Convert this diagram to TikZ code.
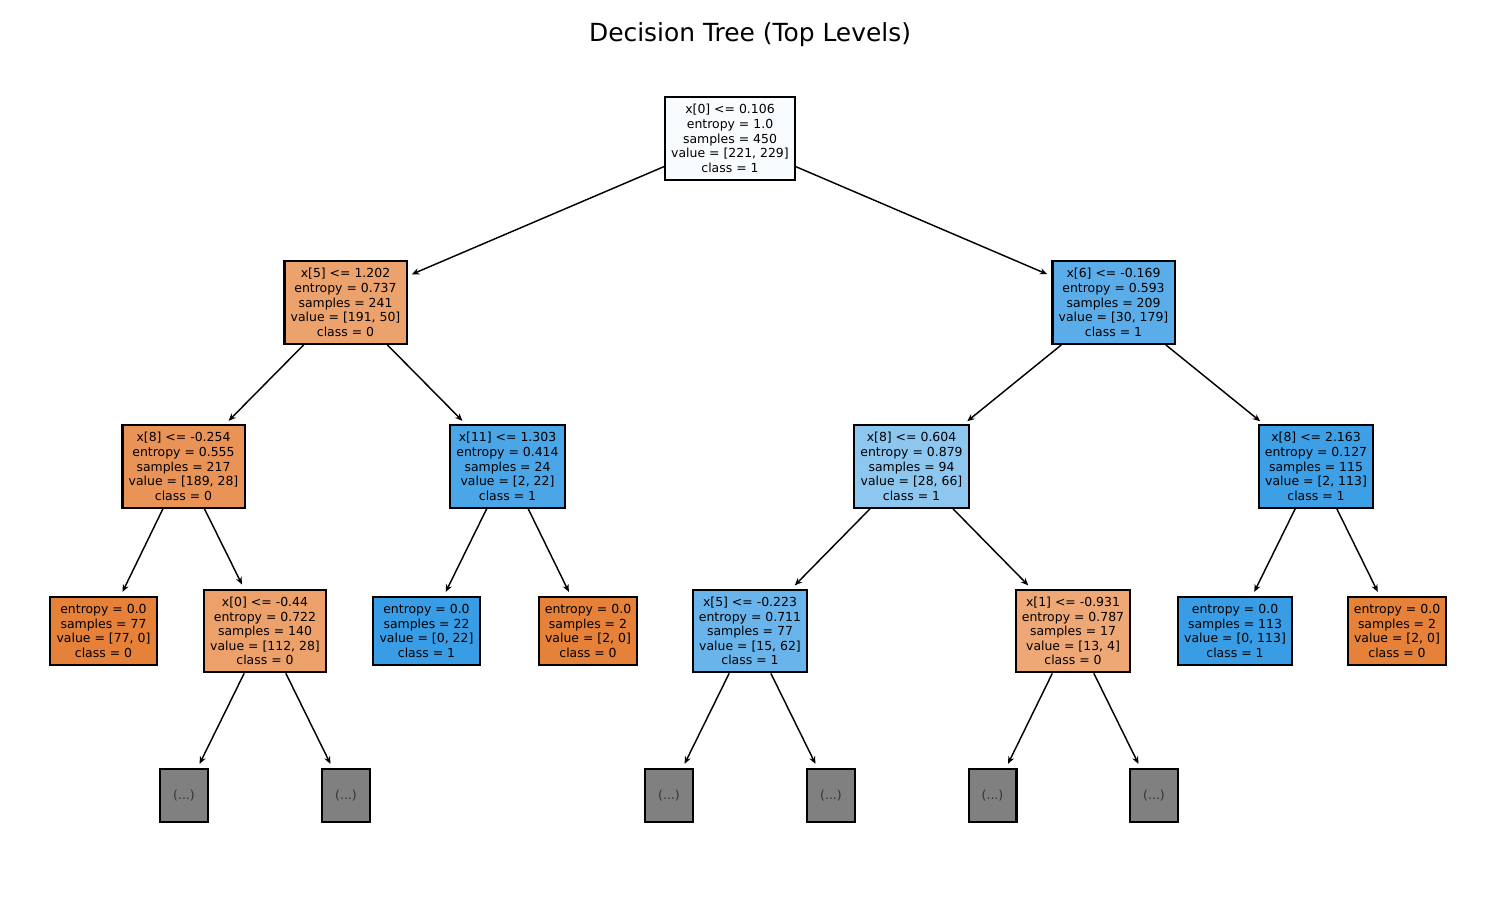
\documentclass[tikz,border=0pt]{standalone}
\usepackage{fontspec}
\setmainfont{DejaVu Sans}
\usetikzlibrary{arrows.meta}

% node fills: orange = class 0, blue = class 1, shade by purity
\definecolor{nRoot}{RGB}{248,252,254}
\definecolor{nA}{RGB}{236,162,109}
\definecolor{nB}{RGB}{90,173,233}
\definecolor{nAA}{RGB}{233,148,86}
\definecolor{nAB}{RGB}{75,166,231}
\definecolor{nBA}{RGB}{141,199,240}
\definecolor{nBB}{RGB}{61,159,230}
\definecolor{pureO}{RGB}{229,129,57}
\definecolor{pureB}{RGB}{57,157,229}
\definecolor{nAAB}{RGB}{236,161,107}
\definecolor{nBAA}{RGB}{105,181,235}
\definecolor{nBAB}{RGB}{237,168,118}
\definecolor{trunc}{RGB}{128,128,128}

\begin{document}
\begin{tikzpicture}[x=0.4818pt,y=-0.4818pt,
  tnode/.style={draw=black, line width=1pt, align=center,
    font=\fontsize{6}{7.05}\selectfont, inner xsep=3pt, inner ysep=3.5pt},
  more/.style={draw=black, line width=1pt, fill=trunc, text=black!80,
    font=\fontsize{6}{7.05}\selectfont, minimum width=23.1pt, minimum height=25.5pt, inner sep=0pt},
  edge/.style={-{Stealth[length=3.6pt,width=3pt]}, line width=0.7pt, shorten >=2.2pt}]
\useasboundingbox (0,0) rectangle (1500,900);

\node (title) at (750,35) {\fontsize{12}{14}\selectfont Decision Tree (Top Levels)};

% level 0
\node[tnode, fill=nRoot] (r) at (730,138.5) {x[0] <= 0.106\\entropy = 1.0\\samples = 450\\value = [221, 229]\\class = 1};

% level 1
\node[tnode, fill=nA] (a) at (345.5,302.5) {x[5] <= 1.202\\entropy = 0.737\\samples = 241\\value = [191, 50]\\class = 0};
\node[tnode, fill=nB] (b) at (1113.5,302.5) {x[6] <= -0.169\\entropy = 0.593\\samples = 209\\value = [30, 179]\\class = 1};

% level 2
\node[tnode, fill=nAA] (aa) at (183.5,466.5) {x[8] <= -0.254\\entropy = 0.555\\samples = 217\\value = [189, 28]\\class = 0};
\node[tnode, fill=nAB] (ab) at (507.5,466.5) {x[11] <= 1.303\\entropy = 0.414\\samples = 24\\value = [2, 22]\\class = 1};
\node[tnode, fill=nBA] (ba) at (911.5,466.5) {x[8] <= 0.604\\entropy = 0.879\\samples = 94\\value = [28, 66]\\class = 1};
\node[tnode, fill=nBB] (bb) at (1316,466.5) {x[8] <= 2.163\\entropy = 0.127\\samples = 115\\value = [2, 113]\\class = 1};

% level 3
\node[tnode, fill=pureO] (aaa) at (103.5,631) {entropy = 0.0\\samples = 77\\value = [77, 0]\\class = 0};
\node[tnode, fill=nAAB] (aab) at (265,631) {x[0] <= -0.44\\entropy = 0.722\\samples = 140\\value = [112, 28]\\class = 0};
\node[tnode, fill=pureB] (aba) at (426.5,631) {entropy = 0.0\\samples = 22\\value = [0, 22]\\class = 1};
\node[tnode, fill=pureO] (abb) at (588,631) {entropy = 0.0\\samples = 2\\value = [2, 0]\\class = 0};
\node[tnode, fill=nBAA] (baa) at (750,631) {x[5] <= -0.223\\entropy = 0.711\\samples = 77\\value = [15, 62]\\class = 1};
\node[tnode, fill=nBAB] (bab) at (1073,631) {x[1] <= -0.931\\entropy = 0.787\\samples = 17\\value = [13, 4]\\class = 0};
\node[tnode, fill=pureB] (bba) at (1235,631) {entropy = 0.0\\samples = 113\\value = [0, 113]\\class = 1};
\node[tnode, fill=pureO] (bbb) at (1397,631) {entropy = 0.0\\samples = 2\\value = [2, 0]\\class = 0};

% truncated subtrees
\node[more] (m1) at (184,795.5) {(...)};
\node[more] (m2) at (346,795.5) {(...)};
\node[more] (m3) at (669,795.5) {(...)};
\node[more] (m4) at (831,795.5) {(...)};
\node[more] (m5) at (992.5,795.5) {(...)};
\node[more] (m6) at (1154,795.5) {(...)};

% connectors
\draw[edge] (r) -- (a);
\draw[edge] (r) -- (b);
\draw[edge] (a) -- (aa);
\draw[edge] (a) -- (ab);
\draw[edge] (b) -- (ba);
\draw[edge] (b) -- (bb);
\draw[edge] (aa) -- (aaa);
\draw[edge] (aa) -- (aab);
\draw[edge] (ab) -- (aba);
\draw[edge] (ab) -- (abb);
\draw[edge] (ba) -- (baa);
\draw[edge] (ba) -- (bab);
\draw[edge] (bb) -- (bba);
\draw[edge] (bb) -- (bbb);
\draw[edge] (aab) -- (m1);
\draw[edge] (aab) -- (m2);
\draw[edge] (baa) -- (m3);
\draw[edge] (baa) -- (m4);
\draw[edge] (bab) -- (m5);
\draw[edge] (bab) -- (m6);
\end{tikzpicture}
\end{document}
